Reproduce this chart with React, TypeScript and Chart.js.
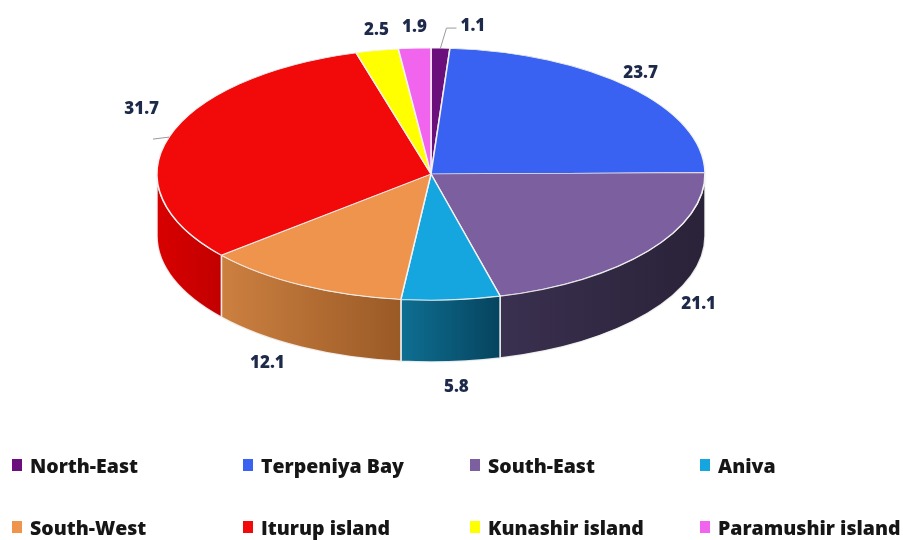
import React, { useEffect, useRef } from "react";
import { Chart, registerables } from "chart.js";

Chart.register(...registerables);

const categories = [
  "North-East",
  "Terpeniya Bay",
  "South-East",
  "Aniva",
  "South-West",
  "Iturup island",
  "Kunashir island",
  "Paramushir island",
];
const values = [1.1, 23.7, 21.1, 5.8, 12.1, 31.7, 2.5, 1.9];
const valueLabels = ["1.1", "23.7", "21.1", "5.8", "12.1", "31.7", "2.5", "1.9"];
const topColors = ["#6a0f7c", "#3a62f2", "#7b5f9f", "#16a6df", "#ef944c", "#f20a0a", "#ffff00", "#f064ee"];
const sideLight = ["#4a0a57", "#2846b0", "#3a3050", "#0e6f92", "#cc8040", "#d80000", "#c8c800", "#b040b0"];
const sideDark = ["#35063f", "#1c3388", "#2a2238", "#06445e", "#9a5a26", "#c20000", "#a0a000", "#902890"];
const leaderLabels = ["North-East", "Iturup island"];

// projected geometry of the 3D disc (screen pixels)
const CX = 431;
const CY = 174;
const RX = 274;
const RY = 126;
const DEPTH = 62;

const LABEL_FONT = "800 17px 'Open Sans', Lato, sans-serif";
const LABEL_COLOR = "#1e2a4a";

const pie3d = {
  id: "pie3d",
  beforeDatasetsDraw(chart: any) {
    const meta = chart.getDatasetMeta(0);
    const ctx: CanvasRenderingContext2D = chart.ctx;
    const first = meta.data[0];
    if (!first) return;
    ctx.save();
    meta.data.forEach((arc: any, i: number) => {
      const a = Math.max(arc.startAngle, 0);
      const b = Math.min(arc.endAngle, Math.PI);
      if (b <= a) return;
      const xa = CX + RX * Math.cos(a);
      const xb = CX + RX * Math.cos(b);
      const grad = ctx.createLinearGradient(Math.min(xa, xb), 0, Math.max(xa, xb), 0);
      grad.addColorStop(0, sideLight[i]);
      grad.addColorStop(1, sideDark[i]);
      ctx.beginPath();
      ctx.ellipse(CX, CY, RX, RY, 0, a, b, false);
      ctx.ellipse(CX, CY + DEPTH, RX, RY, 0, b, a, true);
      ctx.closePath();
      ctx.fillStyle = grad;
      ctx.fill();
      ctx.strokeStyle = "rgba(245,245,245,0.9)";
      ctx.lineWidth = 1.5;
      ctx.stroke();
    });
    ctx.restore();
    ctx.save();
    const r = first.outerRadius;
    ctx.translate(CX, CY);
    ctx.scale(RX / r, RY / r);
    ctx.translate(-first.x, -first.y);
  },
  afterDatasetsDraw(chart: any) {
    const ctx: CanvasRenderingContext2D = chart.ctx;
    ctx.restore();
    const meta = chart.getDatasetMeta(0);
    ctx.save();
    ctx.font = LABEL_FONT;
    ctx.fillStyle = LABEL_COLOR;
    ctx.textBaseline = "middle";
    ctx.textAlign = "center";
    meta.data.forEach((arc: any, i: number) => {
      const mid = (arc.startAngle + arc.endAngle) / 2;
      const c = Math.cos(mid);
      const s = Math.sin(mid);
      const text = valueLabels[i];
      const w = ctx.measureText(text).width;
      if (leaderLabels.includes(categories[i])) {
        const px = CX + c * RX;
        const py = CY + s * RY;
        ctx.strokeStyle = "#9a9a9a";
        ctx.lineWidth = 1;
        ctx.beginPath();
        ctx.moveTo(px, py);
        if (s < -0.9) {
          const ex = px + 6;
          const ey = py - 20;
          ctx.lineTo(ex, ey);
          ctx.lineTo(ex + 10, ey);
          ctx.stroke();
          ctx.fillText(text, ex + 14 + w / 2, ey - 2);
        } else {
          const ex = px + (c >= 0 ? 16 : -16);
          const ey = py + 2;
          ctx.lineTo(ex, ey);
          ctx.stroke();
          const tx = c >= 0 ? ex - 6 + w / 2 : ex + 6 - w / 2;
          ctx.fillText(text, tx, ey - 30);
        }
      } else {
        const lx = CX + c * (RX + 40) * (1 + 0.12 * s);
        const ly = s > 0 ? CY + s * (RY + 26 + DEPTH) : CY + s * (RY + 21);
        ctx.fillText(text, lx, ly);
      }
    });
    ctx.restore();
  },
};

function App() {
  const ref = useRef<HTMLCanvasElement | null>(null);
  useEffect(() => {
    if (!ref.current) return;
    const chart = new Chart(ref.current, {
      type: "pie",
      data: {
        labels: categories,
        datasets: [
          {
            data: values,
            backgroundColor: topColors,
            borderColor: "#f2f2f2",
            borderWidth: 1.5,
            clip: false,
          } as any,
        ],
      },
      options: {
        responsive: false,
        maintainAspectRatio: false,
        animation: false,
        events: [],
        rotation: 0,
        plugins: {
          legend: { display: false },
          tooltip: { enabled: false },
        },
      },
      plugins: [pie3d],
    });
    return () => chart.destroy();
  }, []);

  const cols = ["231px", "227px", "230px", "203px"];
  return (
    <div style={{ position: "absolute", left: 0, top: 0, width: 903, height: 540, background: "#ffffff" }}>
      <canvas ref={ref} width={903} height={540} style={{ display: "block" }} />
      <div
        style={{
          position: "absolute",
          left: 12,
          top: 434,
          display: "grid",
          gridTemplateColumns: cols.join(" "),
          gridTemplateRows: "62px 62px",
          alignItems: "center",
          fontFamily: "'Open Sans', Lato, sans-serif",
          fontWeight: 800,
          fontSize: 19.5,
          color: "#161616",
        }}
      >
        {categories.map((name, i) => (
          <div key={name} style={{ display: "flex", alignItems: "center", whiteSpace: "nowrap" }}>
            <span style={{ display: "inline-block", width: 10, height: 12, background: topColors[i], marginRight: 8 }} />
            <span>{name}</span>
          </div>
        ))}
      </div>
    </div>
  );
}

export default App;
